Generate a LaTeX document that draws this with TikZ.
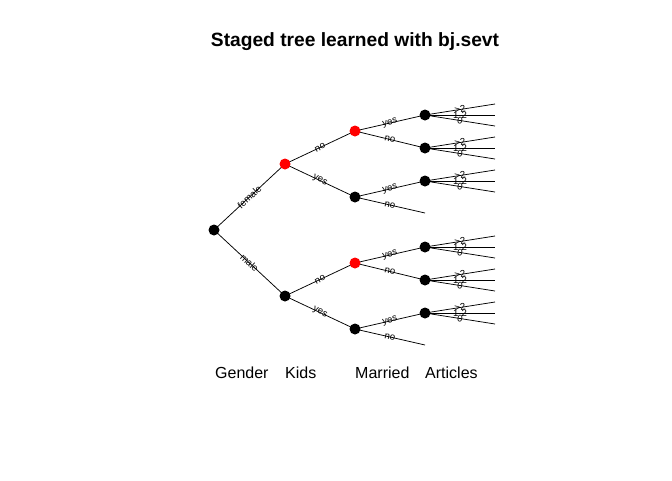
\documentclass[tikz,border=0pt]{standalone}
\usepackage{fontspec}
\setmainfont{Liberation Sans}
\usetikzlibrary{calc}
\begin{document}
\begin{tikzpicture}[x=1pt,y=-1pt,
  stnode/.style={circle,inner sep=0pt,minimum size=11pt,fill=#1},
  edge/.style={draw=black,line width=0.75pt},
  elab/.style={font=\fontsize{9.6}{9.6}\selectfont,sloped,midway,inner sep=0pt},
  axlab/.style={font=\fontsize{16}{16}\selectfont,anchor=base west,inner sep=0pt},
]
\useasboundingbox (0,0) rectangle (672,480);
% title
\node[font=\fontsize{19.2}{19.2}\selectfont\bfseries,anchor=base,inner sep=0pt] (title) at (355,46) {Staged tree learned with bj.sevt};
% coordinates of nodes
\coordinate (r) at (214,230);
\coordinate (kf) at (285,164);
\coordinate (km) at (285,296);
\coordinate (m1) at (355,131);
\coordinate (m2) at (355,197);
\coordinate (m3) at (355,263);
\coordinate (m4) at (355,329);
\coordinate (a1) at (425,115);
\coordinate (a2) at (425,148);
\coordinate (a3) at (425,181);
\coordinate (a4) at (425,247);
\coordinate (a5) at (425,280);
\coordinate (a6) at (425,313);
\coordinate (l2) at (425,213);
\coordinate (l4) at (425,345);
% edges
\draw[edge] (r) -- node[elab]{female} (kf);
\draw[edge] (r) -- node[elab]{male} (km);
\draw[edge] (kf) -- node[elab]{no} (m1);
\draw[edge] (kf) -- node[elab]{yes} (m2);
\draw[edge] (km) -- node[elab]{no} (m3);
\draw[edge] (km) -- node[elab]{yes} (m4);
\draw[edge] (m1) -- node[elab]{yes} (a1);
\draw[edge] (m1) -- node[elab]{no} (a2);
\draw[edge] (m2) -- node[elab]{yes} (a3);
\draw[edge] (m2) -- node[elab]{no} (l2);
\draw[edge] (m3) -- node[elab]{yes} (a4);
\draw[edge] (m3) -- node[elab]{no} (a5);
\draw[edge] (m4) -- node[elab]{yes} (a6);
\draw[edge] (m4) -- node[elab]{no} (l4);
\foreach \a in {a1,a2,a3,a4,a5,a6}{
  \coordinate (\a t) at ($(\a)+(70,-11)$);
  \coordinate (\a m) at ($(\a)+(70,0)$);
  \coordinate (\a b) at ($(\a)+(70,11)$);
  \draw[edge] (\a) -- node[elab]{>2} (\a t);
  \draw[edge] (\a) -- node[elab]{1-2} (\a m);
  \draw[edge] (\a) -- node[elab]{0} (\a b);
}
% stage nodes
\node[stnode=black] (nr) at (r) {};
\node[stnode=red] (nkf) at (kf) {};
\node[stnode=black] (nkm) at (km) {};
\node[stnode=red] (nm1) at (m1) {};
\node[stnode=black] (nm2) at (m2) {};
\node[stnode=red] (nm3) at (m3) {};
\node[stnode=black] (nm4) at (m4) {};
\foreach \a in {a1,a2,a3,a4,a5,a6}{\node[stnode=black] (n\a) at (\a) {};}
% axis labels
\node[axlab] (lg) at (215,378) {Gender};
\node[axlab] (lk) at (285,378) {Kids};
\node[axlab] (lm) at (355,378) {Married};
\node[axlab] (la) at (425,378) {Articles};
\end{tikzpicture}
\end{document}
